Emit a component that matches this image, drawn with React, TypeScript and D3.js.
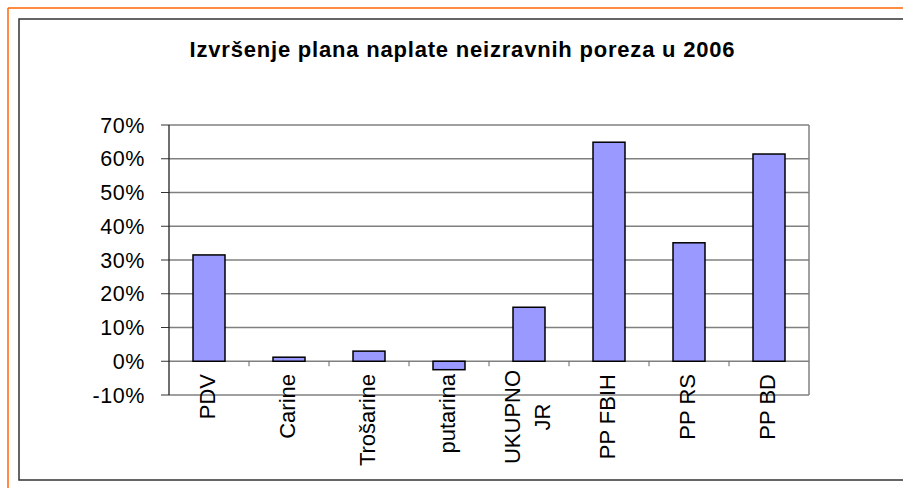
import * as d3 from 'd3';

const categories = ['PDV', 'Carine', 'Trošarine', 'putarina', 'UKUPNO JR', 'PP FBIH', 'PP RS', 'PP BD'];
const values = [0.315, 0.012, 0.03, -0.025, 0.16, 0.649, 0.351, 0.614];
const yTicks = [-0.1, 0, 0.1, 0.2, 0.3, 0.4, 0.5, 0.6, 0.7];
const title = 'Izvršenje plana naplate neizravnih poreza u 2006';

const width = 903;
const height = 488;
const plot = { left: 169, right: 809, top: 125, bottom: 395 };

const x = d3.scaleBand<string>()
  .domain(categories)
  .range([plot.left, plot.right])
  .paddingInner(0.6)
  .paddingOuter(0.3);

const y = d3.scaleLinear().domain([-0.1, 0.7]).range([plot.bottom, plot.top]);

// excel style: plain hyphen for negatives
const fmt = (v: number) => d3.format('.0%')(v).replace('−', '-');
const font = 'Liberation Sans, Arial, sans-serif';

const App = () => {
  const step = x.step();
  const y0 = y(0);
  return (
    <svg width={width} height={height} style={{ position: 'absolute', left: 0, top: 0, background: '#fff' }}>
      {/* frames */}
      <line x1={8} y1={8} x2={width} y2={8} stroke="#ff6600" strokeWidth={1.5} />
      <line x1={8} y1={8} x2={8} y2={height} stroke="#ff6600" strokeWidth={1.5} />
      <rect x={19} y={19} width={width} height={461} fill="none" stroke="#333" strokeWidth={1.5} />

      <text x={462.5} y={57} textAnchor="middle" fontFamily={font} fontWeight="bold" fontSize={22} letterSpacing={0.8}>
        {title}
      </text>

      {/* grid */}
      {yTicks.map((t) => (
        <g key={t}>
          <line x1={plot.left} x2={plot.right} y1={y(t)} y2={y(t)} stroke="#808080" strokeWidth={1.3} />
          <line x1={161} x2={plot.left} y1={y(t)} y2={y(t)} stroke="#333" strokeWidth={1} />
          <text x={145} y={y(t)} dy="0.36em" textAnchor="end" fontFamily={font} fontSize={21.5} letterSpacing={0.6}>
            {fmt(t)}
          </text>
        </g>
      ))}
      <line x1={plot.right} x2={plot.right} y1={plot.top} y2={plot.bottom} stroke="#808080" strokeWidth={1.5} />
      <line x1={plot.left} x2={plot.left} y1={plot.top} y2={plot.bottom} stroke="#222" strokeWidth={1.3} />

      {/* category ticks */}
      {categories.slice(1).map((c) => {
        const xt = (x(c) as number) - (step - x.bandwidth()) / 2;
        return <line key={c} x1={xt} x2={xt} y1={y0} y2={y0 + 5} stroke="#666" strokeWidth={1} />;
      })}

      {/* bars */}
      {categories.map((c, i) => (
        <rect
          key={c}
          x={x(c)}
          width={x.bandwidth()}
          y={Math.min(y(values[i]), y0)}
          height={Math.abs(y(values[i]) - y0)}
          fill="#9999ff"
          stroke="#000"
          strokeWidth={1.5}
        />
      ))}

      {/* category labels */}
      {categories.map((c) => {
        const cx = (x(c) as number) + x.bandwidth() / 2;
        if (c === 'UKUPNO JR') {
          return (
            <g key={c} transform={`translate(${cx},417) rotate(-90)`} fontFamily={font} fontSize={22}>
              <text x={0} y={-9} textAnchor="middle">UKUPNO</text>
              <text x={0} y={21} textAnchor="middle">JR</text>
            </g>
          );
        }
        return (
          <text
            key={c}
            transform={`translate(${cx + 6},374) rotate(-90)`}
            textAnchor="end"
            fontFamily={font}
            fontSize={22}
          >
            {c}
          </text>
        );
      })}
    </svg>
  );
};

export default App;
